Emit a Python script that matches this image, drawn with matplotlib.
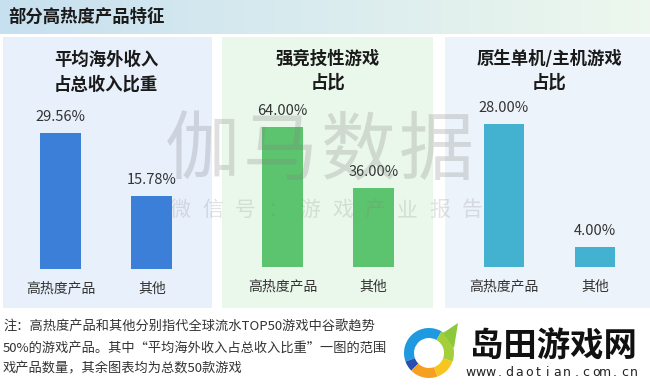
import numpy as np
import matplotlib
matplotlib.use("Agg")
import matplotlib.pyplot as plt
from matplotlib.patches import Rectangle, Wedge, Polygon

plt.rcParams['font.family'] = ['Noto Sans CJK SC', 'DejaVu Sans']

# 数据
categories = ["高热度产品", "其他"]
panel_titles = ["平均海外收入\n占总收入比重", "强竞技性游戏\n占比", "原生单机/主机游戏\n占比"]
overseas_share = [29.56, 15.78]
competitive_share = [64.00, 36.00]
console_share = [28.00, 4.00]
series = [overseas_share, competitive_share, console_share]

bar_colors = ["#3c7fd8", "#5cc46e", "#43b2d0"]
panel_colors = ["#e8f0fb", "#eaf8ec", "#edf3fa"]

W, H = 650, 385
fig = plt.figure(figsize=(6.5, 3.85), dpi=100)


def px_rect(x0, y0, x1, y1):
    # caixa em pixels (origem em cima à esquerda) -> fração da figura
    return [x0 / W, 1 - y1 / H, (x1 - x0) / W, (y1 - y0) / H]


# fundo: cabeçalho e painéis
bg = fig.add_axes([0, 0, 1, 1], zorder=0)
bg.set_xlim(0, W)
bg.set_ylim(H, 0)
bg.axis("off")

c_left = np.array([0.78, 0.88, 0.94])
c_right = np.array([0.93, 0.97, 0.93])
t = np.linspace(0, 1, 256)
grad = (c_left[None, :] * (1 - t[:, None]) + c_right[None, :] * t[:, None])[None, :, :]
bg.imshow(grad, extent=[0, W, 34, 0], aspect="auto", zorder=0)
bg.text(8, 17, "部分高热度产品特征", fontsize=12.5, fontweight="bold",
        color="#1a1a1a", va="center", ha="left")

panels = [(3, 212), (222, 433), (445, 650)]
for (x0, x1), col in zip(panels, panel_colors):
    bg.add_patch(Rectangle((x0, 37), x1 - x0, 271, facecolor=col, edgecolor="none"))

# gráficos de barras
centers = [106.25, 328, 549.5]
bottoms = [269, 267, 267]
tops = [133, 127, 124]
title_y = [(60, 85), (59, 83), (59, 83)]

for i, vals in enumerate(series):
    ax = fig.add_axes(px_rect(centers[i] - 91, tops[i], centers[i] + 91, bottoms[i]), zorder=1)
    ax.patch.set_alpha(0)
    x = np.arange(len(categories))
    bars = ax.bar(x, vals, width=0.45, color=bar_colors[i])
    ax.set_xlim(-0.5, 1.5)
    ax.set_ylim(0, max(vals))
    for b, v in zip(bars, vals):
        ax.annotate(f"{v:.2f}%", (b.get_x() + b.get_width() / 2, v),
                    xytext=(0, 11.5), textcoords="offset points",
                    ha="center", va="center", fontsize=10.5, color="#333333",
                    annotation_clip=False)
    ax.set_xticks(x)
    ax.set_xticklabels(categories, fontsize=10, color="#333333")
    ax.tick_params(axis="x", length=0, pad=9)
    ax.set_yticks([])
    for s in ax.spines.values():
        s.set_visible(False)
    l1, l2 = panel_titles[i].split("\n")
    bg.text(centers[i], title_y[i][0], l1, fontsize=12.5, fontweight="bold",
            ha="center", va="center", color="#1a1a1a")
    bg.text(centers[i], title_y[i][1], l2, fontsize=12.5, fontweight="bold",
            ha="center", va="center", color="#1a1a1a")

# nota de rodapé
notes = ["注：高热度产品和其他分别指代全球流水TOP50游戏中谷歌趋势",
         "50%的游戏产品。其中“平均海外收入占总收入比重”一图的范围",
         "戏产品数量，其余图表均为总数50款游戏"]
for ln, y in zip(notes, [327, 348, 369]):
    bg.text(3, y, ln, fontsize=9.5, color="#333333", ha="left", va="center")

# marca d'água
top = fig.add_axes([0, 0, 1, 1], zorder=3)
top.set_xlim(0, W)
top.set_ylim(H, 0)
top.axis("off")
top.patch.set_alpha(0)
for k, ch in enumerate("伽马数据"):
    top.text(202 + k * 78, 152, ch, fontsize=54, fontweight="light",
             color="#808080", alpha=0.25, ha="center", va="center")
for k, ch in enumerate("微信号：游戏产业报告"):
    top.text(180 + k * 32.5, 210, ch, fontsize=15, fontweight="light",
             color="#808080", alpha=0.22, ha="center", va="center")

# logo do site (ângulos visuais, sentido anti-horário; eixo y invertido)
top.add_patch(Rectangle((401, 314), 249, 71, facecolor="white", edgecolor="none"))
cx, cy, r = 429, 353, 25
ring = [(60, 200, "#1f9ae0"), (200, 225, "#2a4fb0"), (225, 290, "#f5a020"),
        (290, 340, "#f8c41e"), (340, 420, "#a3cf3a")]
for v0, v1, c in ring:
    top.add_patch(Wedge((cx, cy), r, -v1, -v0, width=10, facecolor=c, edgecolor="none"))
top.add_patch(Polygon([(443, 333), (458, 323), (454, 348)], facecolor="#8cc83c", edgecolor="none"))
top.text(553, 347, "岛田游戏网", fontsize=24, fontweight="bold", color="#111111",
         ha="center", va="center")
for k, ch in enumerate("www.daotian.com.cn"):
    top.text(471 + k * 9.6, 373, ch, fontsize=9, color="#222222", ha="center", va="center",
             family="DejaVu Sans")

fig.savefig("out.png", dpi=100)
